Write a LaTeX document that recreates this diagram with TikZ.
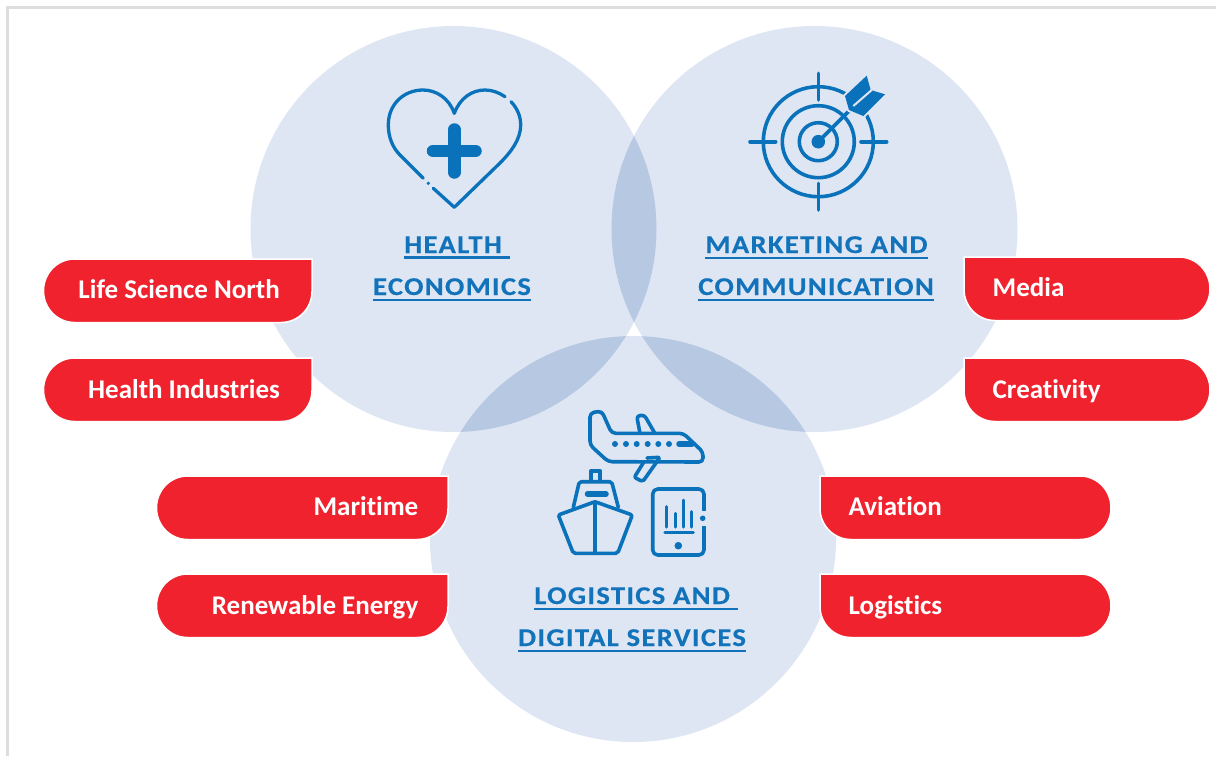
\documentclass[tikz,border=0pt]{standalone}
\usepackage{fontspec}
\setmainfont[Ligatures=NoCommon]{Carlito}
\newfontfamily\headfont[LetterSpace=5,FakeStretch=1.12,FakeBold=0.3]{Carlito}
\definecolor{disc}{HTML}{DFE6F3}
\definecolor{lens}{HTML}{B7C8E3}
\definecolor{iconblue}{HTML}{0A72BA}
\definecolor{headblue}{HTML}{1273BB}
\definecolor{pillred}{HTML}{EF222D}
\definecolor{framegray}{HTML}{DDDDDD}
\newcommand\hdln[1]{\vtop{\hbox{#1}\kern 3.4pt\hrule height 2.3pt}}
\newcommand\pillL[8]{% name x0 y0 x1 y1 text text-inset text-dy : pointing left, text right-aligned
  \draw[pillshape] (#2+31,#3) -- (#4,#3) -- (#4,#5-31) .. controls (#4,#5-14) and (#4-14,#5) .. (#4-31,#5) -- (#2+31,#5) .. controls (#2+14,#5) and (#2,#5-14) .. (#2,{(#3+#5)/2}) .. controls (#2,#3+14) and (#2+14,#3) .. (#2+31,#3) -- cycle;
  \node[pilltext,anchor=base east] (#1) at (#4-#7,#5-24.5+#8) {#6};}
\newcommand\pillR[7]{% name x0 y0 x1 y1 text text-dy : pointing right, text left-aligned
  \draw[pillshape] (#2,#3) -- (#4-31,#3) .. controls (#4-14,#3) and (#4,#3+14) .. (#4,{(#3+#5)/2}) .. controls (#4,#5-14) and (#4-14,#5) .. (#4-31,#5) -- (#2+31,#5) .. controls (#2+14,#5) and (#2,#5-14) .. (#2,#5-31) -- cycle;
  \node[pilltext,anchor=base west] (#1) at (#2+28.5,#5-24.5+#7) {#6};}
\tikzset{
  x=1pt,y=-1pt,
  discshape/.style={fill=disc,draw=none},
  pillshape/.style={fill=pillred,draw=white,line width=1.5pt},
  pilltext/.style={text=white,font=\fontsize{27}{30}\selectfont\bfseries,inner sep=0pt},
  headtext/.style={text=headblue,font=\fontsize{25.6}{28}\selectfont\headfont\bfseries,inner sep=0pt,anchor=base},
  iconline/.style={draw=iconblue,line width=3.3pt,line cap=round,line join=round},
  iconfill/.style={fill=iconblue,draw=none},
}
\begin{document}
\begin{tikzpicture}
\useasboundingbox (0,0) rectangle (1216,756);
\fill[white] (0,0) rectangle (1216,756);
\draw[framegray,line width=3pt] (1216,7.5) -- (7.5,7.5) -- (7.5,756);
% discs
\fill[discshape] (453.5,229) circle[radius=203];
\fill[discshape] (814.5,229) circle[radius=203];
\fill[discshape] (633,539) circle[radius=203];
\begin{scope}\clip (453.5,229) circle[radius=203];\fill[lens] (814.5,229) circle[radius=203];\fill[lens] (633,539) circle[radius=203];\end{scope}
\begin{scope}\clip (814.5,229) circle[radius=203];\fill[lens] (633,539) circle[radius=203];\end{scope}
% heart
\draw[iconline] (454.3,113.3) .. controls (460,98) and (472,90) .. (485,90) .. controls (492,90) and (499,92.5) .. (505,96.7);
\draw[iconline] (511,101.7) .. controls (517,108) and (520.7,116) .. (520.7,125) .. controls (520.7,140) and (510,153) .. (500,163) -- (454.3,207.3) -- (433.3,188.3);
\draw[iconline] (423.3,178.3) -- (400,155) .. controls (392,147) and (388.3,136) .. (388.3,125) .. controls (388.3,104) and (404,90) .. (423,90) .. controls (436,90) and (449,98) .. (454.3,113.3);
\fill[iconblue] (428.3,183.3) circle[radius=1.8];
\draw[iconline,line width=12.5pt] (433,151) -- (475.5,151);
\draw[iconline,line width=12.5pt] (454.3,129.5) -- (454.3,172.5);
% target
\draw[iconline,line width=3.6pt] (818.3,141.7) circle[radius=19];
\draw[iconline,line width=3.6pt] (818.3,141.7) circle[radius=36];
\draw[iconline,line width=3.6pt] (818.3,141.7) circle[radius=55];
\draw[iconline,line width=3.6pt] (818.3,73.3) -- (818.3,100);
\draw[iconline,line width=3.6pt] (818.3,183.3) -- (818.3,210);
\draw[iconline,line width=3.6pt] (750,141.7) -- (775.7,141.7);
\draw[iconline,line width=3.6pt] (861,141.7) -- (886.7,141.7);
\fill[iconblue] (818.3,141.7) circle[radius=6.8];
\draw[iconline,line width=3.6pt] (818.3,141.7) -- (850,110);
\draw[draw=disc,line width=4pt,fill=iconblue,line join=round] (845,96) -- (866.7,75.7) -- (870.7,90) -- (885,94.3) -- (863.3,116) -- (849,110) -- cycle;
\fill[iconblue] (845,96) -- (866.7,75.7) -- (870.7,90) -- (885,94.3) -- (863.3,116) -- (849,110) -- cycle;
\draw[disc,line width=2pt] (853.3,106) -- (871.7,90);
% plane
\draw[iconline,line width=3.6pt,rounded corners=4pt] (590,413) -- (601.7,411) -- (611.7,433.3) -- (683.3,433.3) -- (703,452) -- (703,462) -- (608.3,461.7) -- (590,445) -- cycle;
\draw[iconline,line width=3.6pt,rounded corners=3pt] (640,433.3) -- (636.7,416) -- (644.3,415) -- (654.3,432.3);
\draw[iconline,line width=3.6pt,rounded corners=2pt] (644,461.7) -- (634.3,477.3) -- (642.7,481.7) -- (660,457.3) -- (647,458);
\foreach \wx in {615,626,636.7,647.7,658.3,669} \fill[iconblue] (\wx,444) circle[radius=3];
\draw[iconline,line width=5.5pt] (679,444) -- (692,444);
% ship
\draw[iconline,line width=3.6pt,rounded corners=2pt] (595,501.7) -- (632.3,515) -- (617.7,553.3) -- (573.3,553.3) -- (558.3,515) -- cycle;
\draw[iconline,line width=3.6pt] (595,501.7) -- (595,553.3);
\draw[iconline,line width=3.6pt,rounded corners=2pt] (573.3,507.3) -- (579.3,481.7) -- (611.7,481.7) -- (618.3,507.3);
\draw[iconline,line width=3.6pt] (591,480) -- (591,470.7) -- (600,470.7) -- (600,480);
\draw[iconline,line width=5.5pt] (587.5,494) -- (606,494);
% tablet
\draw[iconline,line width=3.6pt,rounded corners=5pt] (652.7,489) rectangle (704,555);
\draw[disc,line width=4pt] (703.5,511) -- (703.5,526);
\fill[iconblue] (702.7,518.3) circle[radius=2.8];
\foreach \bx/\by in {666.7/506.7,675/513.3,683.3/500,691.7/511.7} \draw[iconline,line width=3pt] (\bx,\by) -- (\bx,527);
\draw[iconline] (665,532.7) -- (693.3,532.7);
\fill[iconblue] (678.3,545.7) circle[radius=3.8];
% headings
\node[headtext] (h1) at (457,253) {\hdln{HEALTH\ }};
\node[headtext] (h2) at (452,295) {\hdln{ECONOMICS}};
\node[headtext] (m1) at (816.5,253) {\hdln{MARKETING AND}};
\node[headtext] (m2) at (816,295) {\hdln{COMMUNICATION}};
\node[headtext] (l1) at (636,604) {\hdln{LOGISTICS AND\ }};
\node[headtext] (l2) at (632,646) {\hdln{DIGITAL SERVICES}};
% pills
\pillL{a}{43.5}{259}{312}{322.5}{Life Science North}{32}{0}
\pillL{b}{43.5}{358}{312}{421.5}{Health Industries}{32}{1}
\pillL{c}{156.5}{476}{448}{539.5}{Maritime}{29.5}{0}
\pillL{d}{156.5}{574}{448}{637.5}{Renewable Energy}{29.5}{1}
\pillR{e}{964}{257}{1210}{320.5}{Media}{0}
\pillR{f}{964}{358}{1210}{421.5}{Creativity}{1}
\pillR{g}{820}{476}{1111}{539.5}{Aviation}{0}
\pillR{h}{820}{574}{1111}{637.5}{Logistics}{1}
\end{tikzpicture}
\end{document}
